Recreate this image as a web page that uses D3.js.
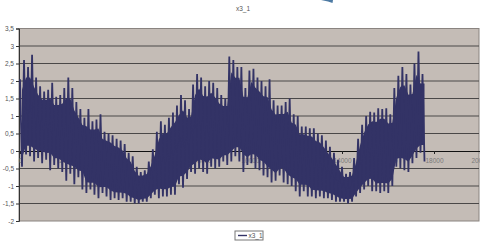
<!DOCTYPE html>
<html>
<head>
<meta charset="utf-8">
<script src="https://cdn.jsdelivr.net/npm/d3@7"></script>
<style>
  body { margin: 0; background: #fff; }
  text { font-family: "Liberation Sans", Arial, sans-serif; }
</style>
</head>
<body>
<svg id="chart" width="480" height="242"></svg>
<script>
// series x3_1: alternating peak / trough of the oscillation
const step = 175;
const peaks = [2.05, 2.6, 2.4, 2.75, 2.1, 1.85, 1.7, 1.75, 1.95, 1.55, 1.6, 1.8, 2.1, 1.8, 1.4, 1.2, 0.95, 1.2, 0.85, 0.9,
  1.05, 0.55, 0.5, 0.45, 0.35, 0.3, 0.2, -0.05, -0.15, -0.45, -0.6, -0.55, -0.3, 0.05, 0.55, 0.85, 0.75, 0.95, 1.1, 1.3,
  1.6, 1.45, 1.2, 1.9, 2.2, 2.1, 1.85, 2.0, 1.95, 1.8, 1.6, 1.5, 2.7, 2.6, 2.4, 2.4, 1.8, 2.3, 2.35, 2.1,
  2.0, 1.85, 2.05, 1.45, 1.3, 1.3, 1.4, 1.5, 1.05, 1.0, 0.7, 0.7, 0.65, 0.65, 0.5, 0.45, 0.3, 0.12, -0.05, -0.25,
  -0.45, -0.65, -0.6, -0.2, 0.35, 0.75, 1.0, 1.12, 1.1, 1.22, 1.2, 1.22, 1.05, 1.8, 2.15, 2.4, 2.2, 1.9, 2.5, 2.84, 2.2];
const troughs = [-0.45, -0.1, -0.15, -0.3, -0.2, -0.35, -0.25, -0.55, -0.4, -0.5, -0.6, -0.85, -0.65, -0.95, -0.75, -1.1, -1.2, -1.1, -1.25, -1.35,
  -1.2, -1.3, -1.4, -1.35, -1.4, -1.35, -1.45, -1.45, -1.5, -1.5, -1.45, -1.45, -1.35, -1.25, -1.35, -1.3, -1.3, -1.25, -1.25, -0.95,
  -1.05, -0.8, -0.6, -0.65, -0.5, -0.6, -0.65, -0.45, -0.5, -0.45, -0.3, -0.4, -0.3, -0.15, -0.3, -0.6, -0.4, -0.35, -0.5, -0.55,
  -0.7, -0.75, -0.9, -0.85, -0.7, -0.9, -0.95, -1.0, -1.15, -1.3, -1.15, -1.3, -1.3, -1.35, -1.3, -1.35, -1.35, -1.4, -1.45, -1.45,
  -1.45, -1.5, -1.45, -1.3, -1.2, -1.1, -1.0, -1.15, -1.15, -1.2, -1.15, -1.2, -1.0, -0.45, -0.5, -0.55, -0.6, -0.35, -0.2, -0.05, -0.3];
const yTicks = [-2, -1.5, -1, -0.5, 0, 0.5, 1, 1.5, 2, 2.5, 3, 3.5];
const xTicks = [0, 2000, 4000, 6000, 8000, 10000, 12000, 14000, 16000, 18000, 20000];
const seriesName = "x3_1";

const data = [];
peaks.forEach((p, i) => {
  data.push({ x: i * step, y: p });
  data.push({ x: i * step + step / 2, y: troughs[i] });
});

// dense core of the oscillation: inner part of where neighbouring swings overlap
const core = peaks.map((p, i) => {
  const hi = Math.min(p, peaks[Math.min(i + 1, peaks.length - 1)]);
  const lo = Math.max(troughs[i], troughs[Math.max(i - 1, 0)]);
  return { x: i * step + step / 2, hi: hi - 0.12 * (hi - lo), lo: lo + 0.1 * (hi - lo) };
});

const svg = d3.select("#chart");
const x = d3.scaleLinear().domain([0, 20000]).range([20, 480]);
const y = d3.scaleLinear().domain([-2, 3.5]).range([221, 28.5]);
const fmt = d => String(d).replace(".", ",");

// stray shape from the page above the chart
svg.append("path")
  .attr("d", "M321,0 L333,0 L332.5,3 L328,1.5 Z")
  .attr("fill", "#4d7aa3");

// plot area
svg.append("rect")
  .attr("x", 19).attr("y", y(3.5))
  .attr("width", 460).attr("height", y(-2) - y(3.5))
  .attr("fill", "#c4bcb6")
  .attr("stroke", "#8a8480").attr("stroke-width", 1);

// horizontal grid
svg.append("g")
  .selectAll("line")
  .data(yTicks.filter(d => d !== 0 && d !== 3.5 && d !== -2))
  .join("line")
  .attr("x1", 19).attr("x2", 479)
  .attr("y1", d => y(d)).attr("y2", d => y(d))
  .attr("stroke", "#4a4848").attr("stroke-width", 1.2);

// y axis
const yAxis = svg.append("g")
  .attr("transform", "translate(19,0)")
  .call(d3.axisLeft(y).tickValues(yTicks).tickFormat(fmt).tickSize(3).tickPadding(2));
yAxis.select(".domain").attr("stroke", "#333");
yAxis.selectAll(".tick line").attr("stroke", "#333");
yAxis.selectAll("text").attr("font-size", 6.5).attr("fill", "#555")
  .attr("font-family", "'Liberation Sans', Arial, sans-serif");

// x axis along zero
const xAxis = svg.append("g")
  .attr("transform", `translate(0,${y(0)})`)
  .call(d3.axisBottom(x).tickValues(xTicks).tickFormat(d => d).tickSize(3).tickPadding(4));
xAxis.select(".domain").attr("stroke", "#111").attr("stroke-width", 1.2);
xAxis.selectAll(".tick line").attr("stroke", "#222");
xAxis.selectAll("text").attr("font-size", 6.5).attr("fill", "#7a7a7a")
  .attr("font-family", "'Liberation Sans', Arial, sans-serif");

// series: dense core + swings
svg.append("path")
  .datum(core)
  .attr("fill", "#333366")
  .attr("d", d3.area().x(d => x(d.x)).y0(d => y(d.lo)).y1(d => y(d.hi)));

svg.append("path")
  .datum(data)
  .attr("fill", "none")
  .attr("stroke", "#333366")
  .attr("stroke-width", 1.8)
  .attr("stroke-linejoin", "bevel")
  .attr("d", d3.line().x(d => x(d.x)).y(d => y(d.y)));

// title
svg.append("text")
  .attr("x", 243).attr("y", 11)
  .attr("text-anchor", "middle")
  .attr("font-size", 6.5).attr("fill", "#555")
  .text(seriesName);

// legend
const lg = svg.append("g").attr("transform", "translate(235,231)");
lg.append("rect")
  .attr("width", 28).attr("height", 9)
  .attr("fill", "#fff").attr("stroke", "#777").attr("stroke-width", 1);
lg.append("line")
  .attr("x1", 3).attr("x2", 12).attr("y1", 4.5).attr("y2", 4.5)
  .attr("stroke", "#333366").attr("stroke-width", 1.4);
lg.append("text")
  .attr("x", 13.5).attr("y", 7)
  .attr("font-size", 6.5).attr("fill", "#555")
  .text(seriesName);
</script>
</body>
</html>
